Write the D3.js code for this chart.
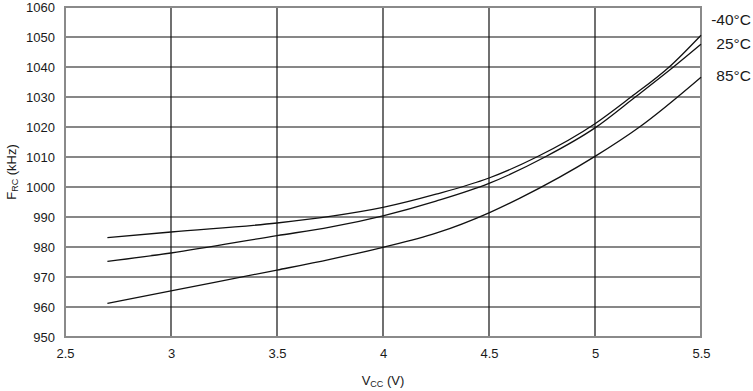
<!DOCTYPE html>
<html>
<head>
<meta charset="utf-8">
<script src="https://cdn.jsdelivr.net/npm/d3@7"></script>
<style>
  body { margin: 0; background: #fff; }
  text { font-family: "Liberation Sans", Arial, sans-serif; fill: #1a1a1a; }
</style>
</head>
<body>
<svg id="chart" width="753" height="391"></svg>
<script>
// supply voltage (V) and RC oscillator frequency (kHz)
const vccM40 = [2.7, 3.0, 3.5, 3.75, 4.0, 4.25, 4.5, 4.725, 5.0, 5.17, 5.35, 5.5];
const fM40 = [983.1, 985.0, 988.0, 990.2, 993.2, 997.6, 1003.0, 1010.0, 1021.1, 1030.0, 1040.0, 1050.6];

const vcc25 = [2.7, 3.0, 3.5, 3.75, 4.0, 4.25, 4.5, 4.764, 5.0, 5.19, 5.37, 5.5];
const f25 = [975.2, 978.0, 983.8, 986.6, 990.4, 995.3, 1001.2, 1010.0, 1019.7, 1030.0, 1040.0, 1047.6];

const vcc85 = [2.7, 3.0, 3.5, 3.75, 4.0, 4.25, 4.5, 4.646, 5.0, 5.21, 5.5];
const f85 = [961.2, 965.4, 972.3, 975.9, 979.9, 984.6, 991.4, 996.3, 1010.2, 1020.0, 1036.6];

const seriesLabels = ['-40°C', '25°C', '85°C'];
const xTicks = [2.5, 3, 3.5, 4, 4.5, 5, 5.5];
const yTicks = [950, 960, 970, 980, 990, 1000, 1010, 1020, 1030, 1040, 1050, 1060];

const series = [
    { label: seriesLabels[0], v: vccM40, f: fM40, labelY: 20 },
    { label: seriesLabels[1], v: vcc25, f: f25, labelY: 44 },
    { label: seriesLabels[2], v: vcc85, f: f85, labelY: 76 }
];

const svg = d3.select('#chart');
const margin = { left: 65, top: 7, right: 52, bottom: 54 };
const w = 753 - margin.left - margin.right;
const h = 391 - margin.top - margin.bottom;

const x = d3.scaleLinear().domain([2.5, 5.5]).range([0, w]);
const y = d3.scaleLinear().domain([950, 1060]).range([h, 0]);

const g = svg.append('g').attr('transform', `translate(${margin.left},${margin.top})`);

// grid
g.append('g')
    .selectAll('line')
    .data(yTicks)
    .enter()
    .append('line')
    .attr('x1', 0)
    .attr('x2', w)
    .attr('y1', d => y(d))
    .attr('y2', d => y(d))
    .attr('stroke', '#111')
    .attr('stroke-width', 1.2);

g.append('g')
    .selectAll('line')
    .data(xTicks)
    .enter()
    .append('line')
    .attr('y1', 0)
    .attr('y2', h)
    .attr('x1', d => x(d))
    .attr('x2', d => x(d))
    .attr('stroke', '#111')
    .attr('stroke-width', 1.2);

// frame
g.append('rect')
    .attr('width', w)
    .attr('height', h)
    .attr('fill', 'none')
    .attr('stroke', '#8a8a8a')
    .attr('stroke-width', 2);

// axes labels (no tick marks)
const yAxis = g.append('g').call(d3.axisLeft(y).tickValues(yTicks).tickSize(0).tickPadding(10).tickFormat(d3.format('d')));
yAxis.select('.domain').remove();
yAxis.selectAll('text').attr('font-size', 13).attr('font-family', '"Liberation Sans", Arial, sans-serif').attr('fill', '#1a1a1a');

const xAxis = g.append('g')
    .attr('transform', `translate(0,${h})`)
    .call(d3.axisBottom(x).tickValues(xTicks).tickSize(0).tickPadding(12).tickFormat(d => d));
xAxis.select('.domain').remove();
xAxis.selectAll('text').attr('font-size', 13).attr('font-family', '"Liberation Sans", Arial, sans-serif').attr('fill', '#1a1a1a');

// curves
const line = d3.line()
    .x(d => x(d[0]))
    .y(d => y(d[1]))
    .curve(d3.curveMonotoneX);

series.forEach(s => {
    g.append('path')
        .datum(d3.zip(s.v, s.f))
        .attr('d', line)
        .attr('fill', 'none')
        .attr('stroke', '#111')
        .attr('stroke-width', 1.3);

    svg.append('text')
        .attr('x', 751)
        .attr('y', s.labelY)
        .attr('dy', '0.35em')
        .attr('text-anchor', 'end')
        .attr('font-size', 15.5)
        .text(s.label);
});

// axis titles
const xt = svg.append('text')
    .attr('x', margin.left + x(4))
    .attr('y', 385)
    .attr('text-anchor', 'middle')
    .attr('font-size', 13);
xt.append('tspan').text('V');
xt.append('tspan').attr('font-size', 9).attr('dy', 2).text('CC');
xt.append('tspan').attr('dy', -2).text(' (V)');

const yt = svg.append('text')
    .attr('transform', `translate(16,${margin.top + h / 2}) rotate(-90)`)
    .attr('text-anchor', 'middle')
    .attr('font-size', 13);
yt.append('tspan').text('F');
yt.append('tspan').attr('font-size', 9).attr('dy', 2).text('RC');
yt.append('tspan').attr('dy', -2).text(' (kHz)');
</script>
</body>
</html>
